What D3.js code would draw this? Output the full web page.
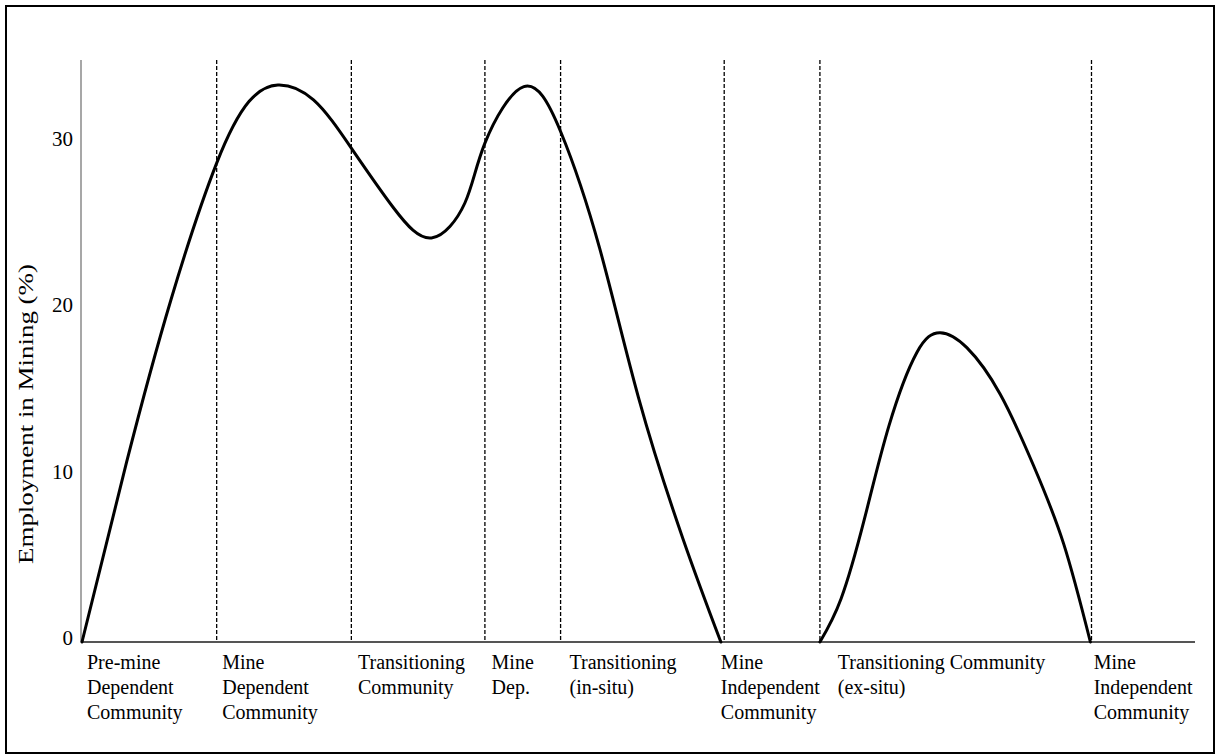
<!DOCTYPE html>
<html>
<head>
<meta charset="utf-8">
<script src="https://cdn.jsdelivr.net/npm/d3@7"></script>
<style>
  body { margin: 0; background: #fff; }
  text { font-family: "Liberation Serif", "Times New Roman", serif; fill: #000; }
</style>
</head>
<body>
<div id="chart"></div>
<script>
// chart data (x is a stage timeline 0-100, y is % employed in mining)
const yTicks = [0, 10, 20, 30];
const stageBounds = [12.1, 24.2, 36.2, 43.0, 57.7, 66.3, 90.7];
const labelStarts = [0.45, 12.6, 24.8, 36.8, 43.8, 57.4, 67.9, 90.9];
const stageLabels = [
  ["Pre-mine", "Dependent", "Community"],
  ["Mine", "Dependent", "Community"],
  ["Transitioning", "Community"],
  ["Mine", "Dep."],
  ["Transitioning", "(in-situ)"],
  ["Mine", "Independent", "Community"],
  ["Transitioning Community", "(ex-situ)"],
  ["Mine", "Independent", "Community"],
];

const firstWaveT = [0, 4.0, 8.0, 12.1, 15.0, 17.6, 20.8, 24.2, 28.0, 31.4,
  34.4, 36.2, 39.7, 43.0, 46.5, 50.0, 54.0, 57.4];
const firstWaveV = [0, 10.8, 20.6, 28.8, 32.5, 33.5, 32.6, 29.7, 26.1, 24.3,
  26.4, 30.0, 33.4, 30.7, 23.7, 14.7, 6.2, 0];

const secondWaveT = [66.3, 68.2, 70.3, 72.5, 75.0, 77.1, 79.5, 82.5, 85.5, 88.2, 90.6];
const secondWaveV = [0, 2.6, 7.4, 13.0, 17.4, 18.6, 17.7, 14.9, 10.6, 5.9, 0];

// layout
const W = 1217, H = 755;
const MARGIN = { top: 60, left: 82, right: 22, bottom: 113 };
const INNER_W = W - MARGIN.left - MARGIN.right;
const INNER_H = H - MARGIN.top - MARGIN.bottom;

const svg = d3.select("#chart")
  .append("svg")
  .attr("width", W)
  .attr("height", H)
  .attr("viewBox", `0 0 ${W} ${H}`);

// outer frame
svg.append("rect")
  .attr("x", 6).attr("y", 6)
  .attr("width", 1208).attr("height", 747)
  .attr("fill", "#fff")
  .attr("stroke", "#000")
  .attr("stroke-width", 2);

const g = svg.append("g")
  .attr("transform", `translate(${MARGIN.left},${MARGIN.top})`);

const x = d3.scaleLinear().domain([0, 100]).range([0, INNER_W]);
const y = d3.scaleLinear().domain([0, 35]).range([INNER_H, 0]);

// stage boundaries
g.selectAll(".bound")
  .data(stageBounds)
  .join("line")
  .attr("class", "bound")
  .attr("x1", (d) => x(d)).attr("x2", (d) => x(d))
  .attr("y1", 0).attr("y2", INNER_H)
  .attr("stroke", "#000")
  .attr("stroke-width", 1.3)
  .attr("stroke-dasharray", "4,2");

// y axis (line + labels only, no tick marks)
const yAxis = g.append("g")
  .attr("transform", "translate(-1,0)")
  .call(d3.axisLeft(y).tickValues(yTicks).tickSize(0).tickPadding(8));
yAxis.select(".domain")
  .attr("d", `M0,0V${INNER_H}`)
  .attr("stroke", "#8a8a8a")
  .attr("stroke-width", 1.5);
yAxis.selectAll("text")
  .attr("font-size", 21)
  .attr("dy", "0.12em");

// x axis line
const xAxis = g.append("g")
  .attr("transform", `translate(-1,${INNER_H})`)
  .call(d3.axisBottom(x).tickValues([]).tickSizeOuter(0));
xAxis.select(".domain")
  .attr("d", `M0,0H${INNER_W + 1}`)
  .attr("stroke", "#555")
  .attr("stroke-width", 2.2);

// curves
const line = d3.line()
  .x((d) => x(d[0]))
  .y((d) => y(d[1]))
  .curve(d3.curveNatural);

const waves = [
  d3.zip(firstWaveT, firstWaveV),
  d3.zip(secondWaveT, secondWaveV),
];
g.selectAll(".wave")
  .data(waves)
  .join("path")
  .attr("class", "wave")
  .attr("fill", "none")
  .attr("stroke", "#000")
  .attr("stroke-width", 3)
  .attr("stroke-linecap", "round")
  .attr("d", line);

// stage labels under the axis
const labels = g.selectAll(".stage")
  .data(stageLabels)
  .join("text")
  .attr("class", "stage")
  .attr("font-size", 20)
  .attr("y", INNER_H + 27);
labels.each(function (lines, i) {
  d3.select(this).selectAll("tspan")
    .data(lines)
    .join("tspan")
    .attr("x", x(labelStarts[i]))
    .attr("dy", (d, j) => (j === 0 ? 0 : 25))
    .text((d) => d);
});

// y axis title (stretched along its length like the original)
svg.append("text")
  .attr("transform", "translate(33,414) rotate(-90)")
  .attr("text-anchor", "middle")
  .attr("font-size", 20)
  .attr("textLength", 300)
  .attr("lengthAdjust", "spacingAndGlyphs")
  .text("Employment  in Mining (%)");
</script>
</body>
</html>
